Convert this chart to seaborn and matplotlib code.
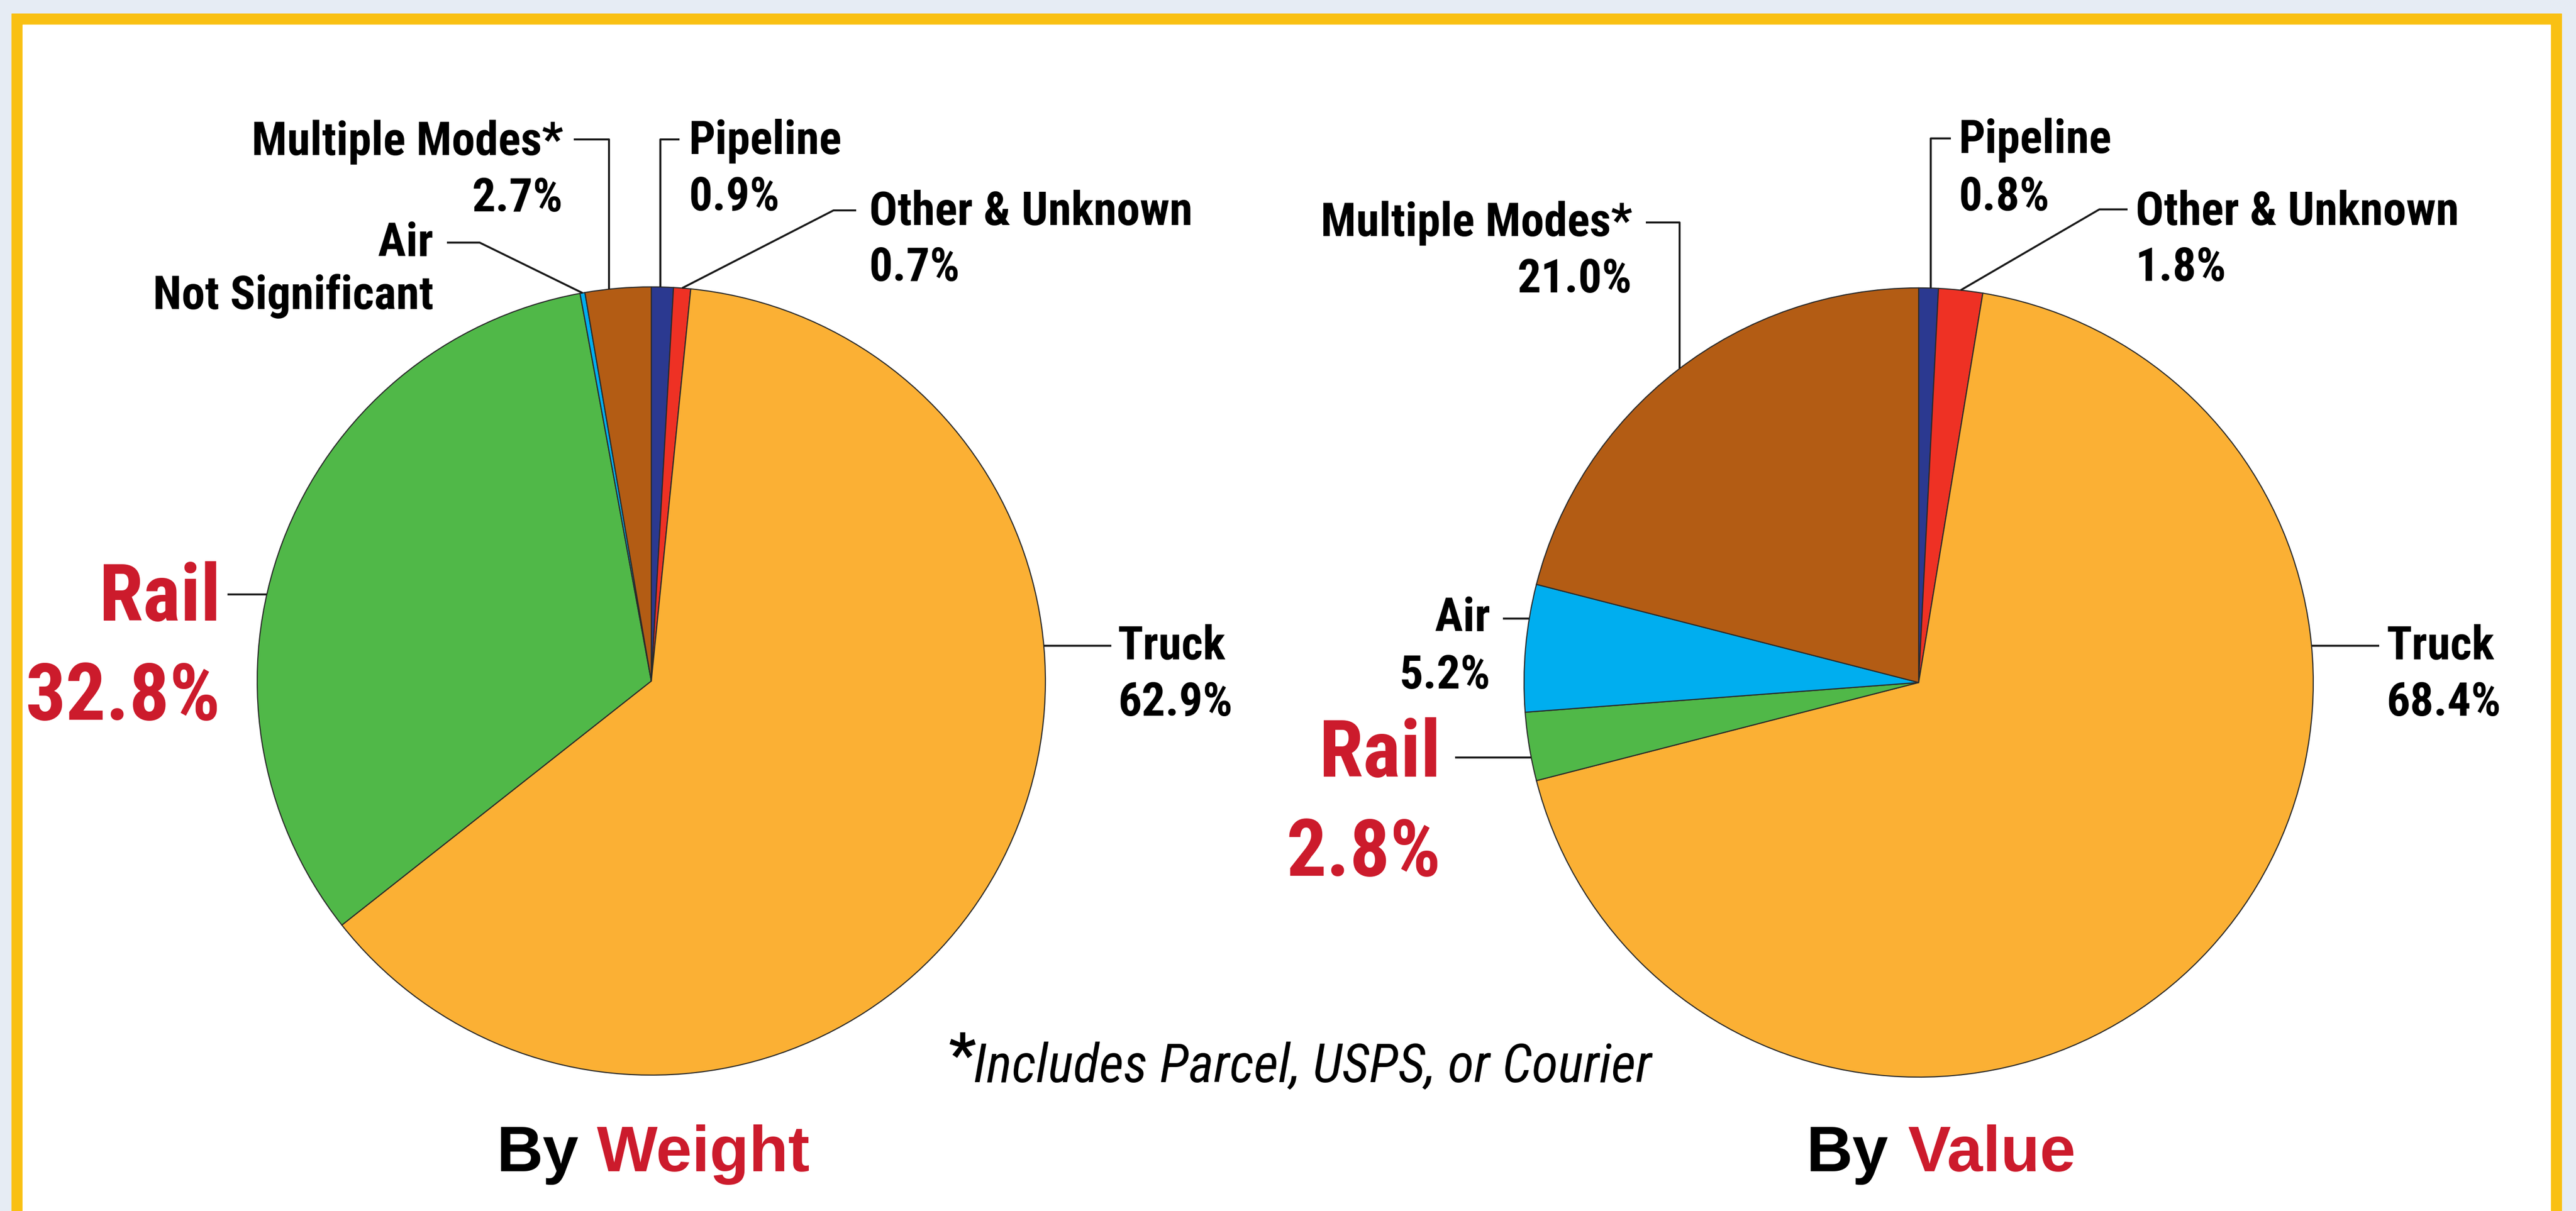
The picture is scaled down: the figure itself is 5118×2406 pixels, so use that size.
import matplotlib
matplotlib.use("Agg")
import numpy as np
import pandas as pd
import seaborn as sns
import matplotlib.pyplot as plt
from matplotlib import font_manager as fm
from matplotlib.patches import Rectangle

# ---------------- data ----------------
modes = ["Pipeline", "Other & Unknown", "Truck", "Rail", "Air", "Multiple Modes*"]
weight_share = [0.9, 0.7, 62.9, 32.8, 0.2, 2.7]      # Air is "Not Significant" (thin sliver)
value_share = [0.8, 1.8, 68.4, 2.8, 5.2, 21.0]
weight_text = ["0.9%", "0.7%", "62.9%", "32.8%", "Not Significant", "2.7%"]
value_text = ["0.8%", "1.8%", "68.4%", "2.8%", "5.2%", "21.0%"]
mode_colors = ["#2b3990", "#ee3124", "#fbb034", "#50b848", "#00aeef", "#b35c14"]
titles = [("By", "Weight"), ("By", "Value")]
footnote = "Includes Parcel, USPS, or Courier"

df = pd.DataFrame({"mode": modes, "weight": weight_share, "value": value_share,
                   "weight_txt": weight_text, "value_txt": value_text})

# ---------------- style ----------------
sns.set_theme(style="white")
names = {f.name for f in fm.fontManager.ttflist}


def pick(cands, default="DejaVu Sans"):
    for c in cands:
        if c in names:
            return c
    return default


COND = pick(["Liberation Sans Narrow", "Roboto Condensed", "Open Sans Condensed",
             "Arial Narrow", "Liberation Sans"])
REG = pick(["Liberation Sans", "Arial", "Roboto"])
plt.rcParams["font.family"] = [COND, "DejaVu Sans"]

W, H = 5118, 2406
DPI = 100
fig = plt.figure(figsize=(W / DPI, H / DPI), dpi=DPI)
ax = fig.add_axes([0, 0, 1, 1])

RED = "#cc1b2c"
LINE = "#1a1a1a"
LBL = 67
BIG = 114

pal = sns.color_palette(mode_colors)

# background + frame
ax.add_patch(Rectangle((0, 0), W, H, color="#e6ecf4", zorder=0))
ax.add_patch(Rectangle((23, -60), 5089 - 23, H - 27 + 60, color="#f9c013", zorder=0.5))
ax.add_patch(Rectangle((45, -60), 5067 - 45, H - 49 + 60, color="#ffffff", zorder=0.6))


def Y(y):
    return H - y


pies = [
    dict(col="weight", txt="weight_txt", cx=1294, cy=1353, R=783),
    dict(col="value", txt="value_txt", cx=3812, cy=1356, R=784),
]

layouts = [
    {
        "Multiple Modes*": dict(x=1119, ha="right", b1=308, b2=420, color="black", size=LBL,
                                pts=[(1140, 277), (1210, 277)], end=("vx", 1210)),
        "Pipeline": dict(x=1369, ha="left", b1=306, b2=418, color="black", size=LBL,
                         pts=[(1350, 277), (1312, 277)], end=("vx", 1312)),
        "Other & Unknown": dict(x=1727, ha="left", b1=447, b2=558, color="black", size=LBL,
                                pts=[(1701, 418), (1656, 418)], end=("mid", None)),
        "Air": dict(x=861, ha="right", b1=509, b2=614, color="black", size=LBL,
                    pts=[(888, 482), (953, 482)], end=("mid", None)),
        "Rail": dict(x=439, ha="right", b1=1233, b2=1430, color=RED, size=BIG,
                     pts=[(452, 1181)], end=("hy", -1)),
        "Truck": dict(x=2221, ha="left", b1=1310, b2=1422, color="black", size=LBL,
                      pts=[(2208, 1283)], end=("hy", 1)),
    },
    {
        "Pipeline": dict(x=3892, ha="left", b1=304, b2=418, color="black", size=LBL,
                         pts=[(3876, 275), (3836, 275)], end=("vx", 3836)),
        "Other & Unknown": dict(x=4243, ha="left", b1=447, b2=558, color="black", size=LBL,
                                pts=[(4227, 416), (4171, 416)], end=("mid", None)),
        "Multiple Modes*": dict(x=3243, ha="right", b1=469, b2=581, color="black", size=LBL,
                                pts=[(3270, 442), (3337, 442)], end=("vx", 3337)),
        "Air": dict(x=2961, ha="right", b1=1254, b2=1368, color="black", size=LBL,
                    pts=[(2986, 1229)], end=("hy", -1)),
        "Rail": dict(x=2863, ha="right", b1=1543, b2=1740, color=RED, size=BIG,
                     pts=[(2891, 1505)], end=("hy", -1)),
        "Truck": dict(x=4742, ha="left", b1=1310, b2=1422, color="black", size=LBL,
                      pts=[(4727, 1283)], end=("hy", 1)),
    },
]

for p, lay in zip(pies, layouts):
    cx, cy, R = p["cx"], p["cy"], p["R"]
    wedges, _ = ax.pie(df[p["col"]], colors=pal, startangle=90, counterclock=False,
                       center=(cx, Y(cy)), radius=R, frame=True,
                       wedgeprops=dict(edgecolor="#2a2a2a", linewidth=1.6))
    for w in wedges:
        w.set_zorder(2)
    for i, row in df.iterrows():
        spec = lay[row["mode"]]
        ax.text(spec["x"], Y(spec["b1"]), row["mode"], ha=spec["ha"], va="baseline",
                fontsize=spec["size"], fontweight="bold", color=spec["color"],
                family=[COND, "DejaVu Sans"], zorder=5)
        ax.text(spec["x"], Y(spec["b2"]), row[p["txt"]], ha=spec["ha"], va="baseline",
                fontsize=spec["size"], fontweight="bold", color=spec["color"],
                family=[COND, "DejaVu Sans"], zorder=5)
        # leader line
        xs = [q[0] for q in spec["pts"]]
        ys = [Y(q[1]) for q in spec["pts"]]
        kind, arg = spec["end"]
        if kind == "vx":
            ex = arg
            ey = Y(cy) + np.sqrt(R ** 2 - (ex - cx) ** 2)
        elif kind == "hy":
            ly = spec["pts"][-1][1]
            ey = Y(ly)
            ex = cx + arg * np.sqrt(R ** 2 - (ly - cy) ** 2)
        else:
            w = wedges[i]
            th = np.deg2rad((w.theta1 + w.theta2) / 2)
            ex = cx + R * np.cos(th)
            ey = Y(cy) + R * np.sin(th)
        xs.append(ex)
        ys.append(ey)
        ax.plot(xs, ys, color=LINE, lw=2.8, solid_capstyle="butt", zorder=4)

# titles
title_pos = [(1150, 1186, 2327), (3752, 3790, 2327)]
for (w1, w2), (xr, xl, base) in zip(titles, title_pos):
    ax.text(xr, Y(base), w1, ha="right", va="baseline", fontsize=92, fontweight="bold",
            color="black", family=[REG, "DejaVu Sans"], zorder=5)
    ax.text(xl, Y(base), w2, ha="left", va="baseline", fontsize=92, fontweight="bold",
            color=RED, family=[REG, "DejaVu Sans"], zorder=5)

# footnote
ax.text(1884, Y(2136), "*", ha="left", va="baseline", fontsize=86, fontweight="bold",
        color="black", family=[COND, "DejaVu Sans"], zorder=5)
ax.text(1934, Y(2150), footnote, ha="left", va="baseline", fontsize=77, style="italic",
        color="black", family=[COND, "DejaVu Sans"], zorder=5)

ax.set_xlim(0, W)
ax.set_ylim(0, H)
ax.set_aspect("auto")
ax.axis("off")

fig.savefig("out.png", dpi=DPI)
